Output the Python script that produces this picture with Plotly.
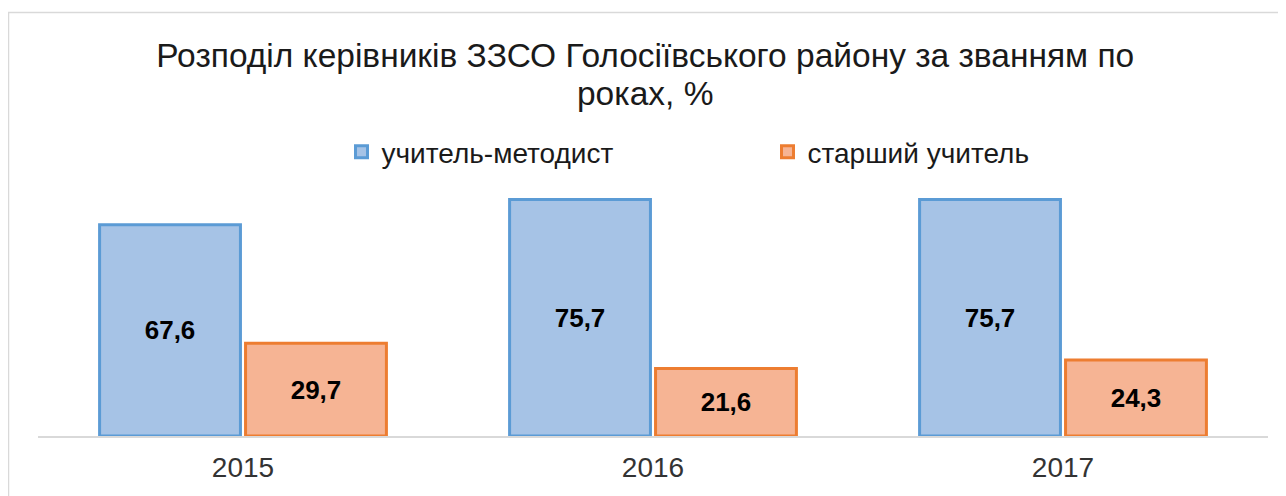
import plotly.graph_objects as go

years = ["2015", "2016", "2017"]
series_names = ["учитель-методист", "старший учитель"]
metodyst = [67.6, 75.7, 75.7]
starshyi = [29.7, 21.6, 24.3]
labels_m = ["67,6", "75,7", "75,7"]
labels_s = ["29,7", "21,6", "24,3"]
title_line1 = "Розподіл керівників ЗЗСО Голосіївського району за званням по"
title_line2 = "роках, %"

FONT = "Liberation Sans"

# page body has an 8px margin: layout coordinates are shifted accordingly
L, R, T, B = 30, 26, 178, 68
PH = 496 - T - B
PW = 1286 - L - R

fig = go.Figure()
fig.add_trace(go.Bar(
    x=years, y=metodyst, name=series_names[0],
    text=labels_m, textposition="inside", insidetextanchor="middle",
    textfont=dict(family=FONT, size=26, color="#000000", weight="bold"),
    marker=dict(color="#a6c3e6", line=dict(color="#5b9bd5", width=3)),
    hoverinfo="skip",
))
fig.add_trace(go.Bar(
    x=years, y=starshyi, name=series_names[1],
    text=labels_s, textposition="inside", insidetextanchor="middle",
    textfont=dict(family=FONT, size=26, color="#000000", weight="bold"),
    marker=dict(color="#f6b494", line=dict(color="#ed7d31", width=3)),
    hoverinfo="skip",
))

title_text = ('<span style="font-size:33.5px">' + title_line1 + '</span><br>'
              '<span style="font-size:33.5px">' + title_line2 + '</span>')

fig.update_layout(
    width=1286, height=496,
    paper_bgcolor="white", plot_bgcolor="white",
    margin=dict(l=L, r=R, t=T, b=B, autoexpand=False),
    barmode="group", bargap=0.288, bargroupgap=0.035,
    title=dict(text=title_text, x=0.4955, xref="container", xanchor="center",
               y=1 - 59 / 496, yref="container", yanchor="top",
               font=dict(family=FONT, size=29.5, color="#1a1a1a")),
    legend=dict(orientation="h", x=(333.5 - L) / PW, xanchor="left",
                y=1 + (T - 144) / PH, yanchor="middle",
                font=dict(family=FONT, size=28, color="#1a1a1a"),
                entrywidth=381, entrywidthmode="pixels", bgcolor="rgba(0,0,0,0)"),
    xaxis=dict(showline=True, linecolor="#d9d9d9", linewidth=1.5, ticks="",
               ticklabelstandoff=6,
               tickfont=dict(family=FONT, size=28, color="#333333"), showgrid=False),
    yaxis=dict(range=[0, 80], visible=False, showgrid=False, zeroline=False),
    shapes=[dict(type="rect", xref="paper", yref="paper",
                 x0=(0.5 - L) / PW, x1=1.1, y0=-0.5, y1=1 + (T - 4.5) / PH,
                 line=dict(color="#d9d9d9", width=1.5), fillcolor="rgba(0,0,0,0)", layer="below")],
)

fig.write_html("out.html")
